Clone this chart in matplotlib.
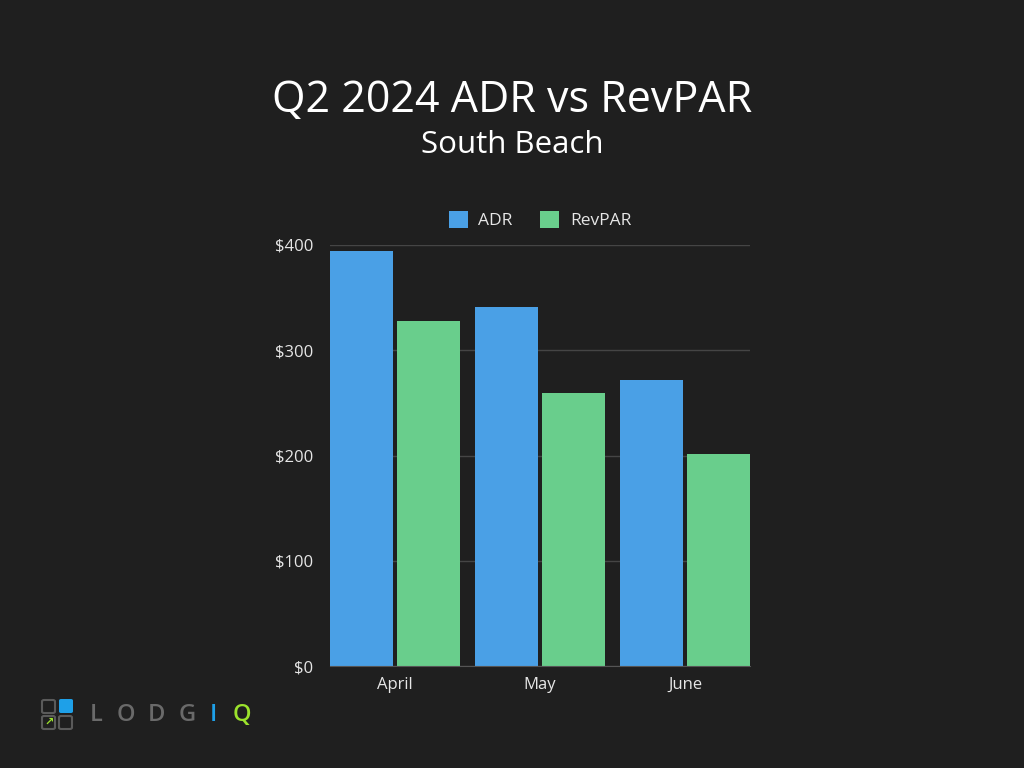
import matplotlib
matplotlib.use("Agg")
import matplotlib.pyplot as plt
from matplotlib.patches import FancyBboxPatch
import numpy as np

months = ["April", "May", "June"]
adr = [394, 341, 272]
revpar = [328, 259, 201]
yticks = [0, 100, 200, 300, 400]
ytick_labels = ["$0", "$100", "$200", "$300", "$400"]

BG = "#1f1f1f"
BLUE = "#4aa0e6"
GREEN = "#69ce8c"
FONT = ["Open Sans", "DejaVu Sans"]
plt.rcParams["font.family"] = FONT

fig = plt.figure(figsize=(10.24, 7.68), dpi=100, facecolor=BG)
ax = fig.add_axes([330/1024, 1-666/768, 420/1024, 421/768])
ax.set_facecolor(BG)

x = np.arange(len(months))
w = 0.434
off = 0.231
ax.bar(x - off, adr, width=w, color=BLUE, label="ADR", zorder=3)
ax.bar(x + off, revpar, width=w, color=GREEN, label="RevPAR", zorder=3)

ax.set_xlim(-0.448, 2.448)
ax.set_ylim(0, 400)
ax.set_yticks(yticks)
ax.set_yticklabels(ytick_labels)
ax.set_xticks(x)
ax.set_xticklabels(months)
ax.tick_params(axis="both", length=0, colors="#e6e6e6", labelsize=12)
ax.tick_params(axis="y", pad=12)
ax.tick_params(axis="x", pad=8)
ax.grid(axis="y", color="#454545", linewidth=1, zorder=0)
ax.set_axisbelow(True)
for s in ["top", "right", "left"]:
    ax.spines[s].set_visible(False)
ax.spines["bottom"].set_color("#555555")
ax.spines["bottom"].set_zorder(4)

fig.text(0.5, 1-101/768, "Q2 2024 ADR vs RevPAR", ha="center", va="center",
         color="white", fontsize=31)
fig.text(0.5, 1-145/768, "South Beach", ha="center", va="center",
         color="white", fontsize=22.5)

leg = ax.legend(loc="center", bbox_to_anchor=(0.5, 1 + 25/421), ncol=2, frameon=False,
                fontsize=12.5, labelcolor="#e6e6e6", handlelength=1.1, handleheight=1.1,
                columnspacing=1.6, handletextpad=0.6)

# logo
def sq(x0, y0, s, fc=None, ec=None):
    r = FancyBboxPatch((x0/1024, 1-(y0+s)/768), s/1024, s/768,
                       boxstyle="round,pad=0,rounding_size=0.002",
                       transform=fig.transFigure, facecolor=fc or "none",
                       edgecolor=ec or "none", linewidth=1.5)
    fig.patches.append(r)
sq(42, 700, 13, ec="#5a5a5a")
sq(59, 699, 14, fc="#1ea0e8")
sq(42, 716, 13, ec="#5a5a5a")
sq(59, 716, 13, ec="#5a5a5a")
fig.text(49/1024, 1-722/768, "↗", color="#9be22c", fontsize=8, ha="center", va="center",
         family=["DejaVu Sans"], fontweight="bold")
letters = ["L", "O", "D", "G", "I", "Q"]
cols = ["#6a6a6a", "#6a6a6a", "#6a6a6a", "#6a6a6a", "#1ea0e8", "#9be22c"]
xs = [96, 126, 156, 187, 213, 242]
for l, c, xx in zip(letters, cols, xs):
    fig.text(xx/1024, 1-715/768, l, color=c, fontsize=17, ha="center", va="center",
             fontweight="semibold")

fig.savefig("out.png", dpi=100, facecolor=BG)
